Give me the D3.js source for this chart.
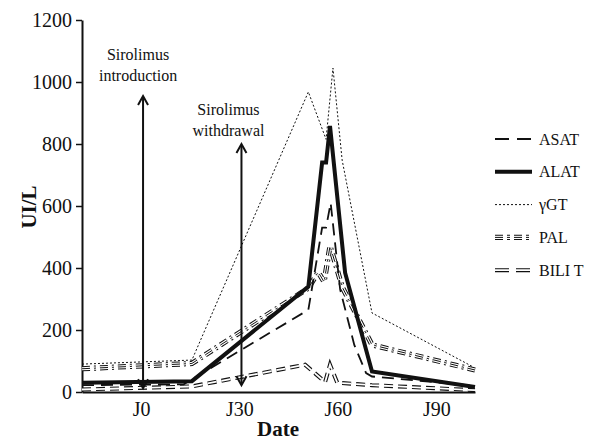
<!DOCTYPE html>
<html>
<head>
<meta charset="utf-8">
<script src="https://cdn.jsdelivr.net/npm/d3@7"></script>
<style>
  body { margin: 0; background: #fff; }
  svg { display: block; }
</style>
</head>
<body>
<svg id="chart" width="596" height="442"></svg>
<script>
// ---- data ----
const xTickDays = [0, 30, 60, 90];
const xTickLabels = ["J0", "J30", "J60", "J90"];
const yTicks = [0, 200, 400, 600, 800, 1000, 1200];

const asatDays = [-18, 13, 51, 55.2, 56.4, 57.8, 60.7, 65, 68.6, 70.4, 101.8];
const asatVals = [22, 25, 265, 530, 530, 610, 330, 152, 61, 50, 20];

const alatDays = [-18, 15.5, 51, 55.2, 56.4, 57.6, 62.2, 70.4, 101.8];
const alatVals = [30, 35, 340, 740, 740, 858, 385, 66, 16];

const ggtDays = [-18, 15.5, 51, 56.4, 58.5, 61.3, 70.4, 101.4];
const ggtVals = [90, 103, 968, 815, 1045, 748, 255, 80];

const palDays = [-18, 15.5, 51, 54, 55.8, 57.6, 59.1, 61.3, 70.4, 101.8];
const palVals = [75, 92, 335, 387, 355, 471, 419, 339, 152, 71];

const biliDays = [-18, 15.5, 50, 56.1, 57.6, 59.8, 70.4, 101.8];
const biliVals = [8, 18, 88, 32, 88, 30, 22, 6];

const seriesNames = ["ASAT", "ALAT", "\u03B3GT", "PAL", "BILI T"];

// annotations
const arrowDays = [0, 30];
const arrowTops = [955, 800];
const arrowBottoms = [12, 22];
const arrowLabels = [["Sirolimus", "introduction"], ["Sirolimus", "withdrawal"]];

// ---- layout ----
const FONT = "'Liberation Serif', 'Times New Roman', Times, 'DejaVu Serif', serif";
const svg = d3.select("#chart");
const x = d3.scaleLinear().domain([-18, 101.8]).range([82, 475]);
const y = d3.scaleLinear().domain([0, 1200]).range([392, 20]);
const ink = "#111";

function txt(sel, size, weight) {
  return sel.attr("font-family", FONT).style("font-family", FONT)
    .style("font-size", size + "px").style("font-weight", weight || "normal").attr("fill", ink);
}

// axes
const yAxis = d3.axisLeft(y).tickValues(yTicks).tickFormat(d3.format("d"))
  .tickSize(6).tickSizeOuter(0).tickPadding(4);
const gy = svg.append("g").attr("transform", `translate(${x.range()[0]},0)`).call(yAxis);
gy.attr("font-family", null).attr("font-size", null);
gy.select(".domain").attr("stroke", ink).attr("stroke-width", 2);
gy.selectAll(".tick line").attr("stroke", ink).attr("stroke-width", 1.5);
txt(gy.selectAll(".tick text"), 20);

const xAxis = d3.axisBottom(x).tickValues(xTickDays).tickFormat((d, i) => xTickLabels[i])
  .tickSize(0).tickSizeOuter(0).tickPadding(10);
const gx = svg.append("g").attr("transform", `translate(0,${y(0)})`).call(xAxis);
gx.attr("font-family", null).attr("font-size", null);
gx.select(".domain").attr("stroke", ink).attr("stroke-width", 2);
txt(gx.selectAll(".tick text"), 20);

txt(svg.append("text").attr("x", 278).attr("y", 436).attr("text-anchor", "middle"), 21, "bold").text("Date");
txt(svg.append("text").attr("transform", "translate(36,207) rotate(-90)").attr("text-anchor", "middle"), 21, "bold").text("UI/L");

// line styles
const styles = {
  "ASAT": [{ stroke: ink, width: 1.8, dash: "12,7" }],
  "ALAT": [{ stroke: ink, width: 4, dash: null }],
  "\u03B3GT": [{ stroke: ink, width: 1, dash: "2,2" }],
  "PAL": [{ stroke: ink, width: 5.2, dash: "8,4,2,4" }, { stroke: "#fff", width: 3.2, dash: "8,4,2,4" }, { stroke: ink, width: 1, dash: "8,4,2,4" }],
  "BILI T": [{ stroke: ink, width: 4, dash: "9,5" }, { stroke: "#fff", width: 1.8, dash: "9,5" }]
};
const legendDash = { "ASAT": "14,8", "ALAT": null, "\u03B3GT": "2,2", "PAL": "8,4,3,4", "BILI T": "14,7" };

const seriesData = {
  "ASAT": asatDays.map((d, i) => [d, asatVals[i]]),
  "ALAT": alatDays.map((d, i) => [d, alatVals[i]]),
  "\u03B3GT": ggtDays.map((d, i) => [d, ggtVals[i]]),
  "PAL": palDays.map((d, i) => [d, palVals[i]]),
  "BILI T": biliDays.map((d, i) => [d, biliVals[i]])
};

const line = d3.line().x(d => x(d[0])).y(d => y(d[1]));
const drawOrder = ["\u03B3GT", "PAL", "BILI T", "ASAT", "ALAT"];
drawOrder.forEach(name => {
  const g = svg.append("g");
  styles[name].forEach(s => {
    g.append("path").datum(seriesData[name]).attr("d", line)
      .attr("fill", "none").attr("stroke", s.stroke).attr("stroke-width", s.width)
      .attr("stroke-dasharray", s.dash).attr("stroke-linejoin", "miter").attr("stroke-miterlimit", 6);
  });
});

// arrows
arrowDays.forEach((d, i) => {
  const ax = x(d) + 2, y1 = y(arrowTops[i]), y2 = y(arrowBottoms[i]);
  const g = svg.append("g").attr("stroke", ink).attr("stroke-width", 2).attr("fill", "none");
  g.append("line").attr("x1", ax).attr("x2", ax).attr("y1", y1 + 1).attr("y2", y2 - 1);
  g.append("path").attr("d", `M${ax - 5},${y1 + 9} L${ax},${y1} L${ax + 5},${y1 + 9}`);
  g.append("path").attr("d", `M${ax - 5},${y2 - 9} L${ax},${y2} L${ax + 5},${y2 - 9}`);
  const tx = i === 0 ? ax - 5 : ax - 13;
  const ty = i === 0 ? 60 : 115;
  arrowLabels[i].forEach((t, j) => {
    txt(svg.append("text").attr("x", tx).attr("y", ty + j * 21).attr("text-anchor", "middle"), 16).text(t);
  });
});

// legend
const legY0 = 139, legStep = 32.8;
seriesNames.forEach((name, i) => {
  const ly = legY0 + i * legStep;
  const g = svg.append("g");
  styles[name].forEach(s => {
    g.append("line").attr("x1", 495).attr("x2", 532).attr("y1", ly).attr("y2", ly)
      .attr("stroke", s.stroke).attr("stroke-width", s.width)
      .attr("stroke-dasharray", legendDash[name]);
  });
  txt(svg.append("text").attr("x", 539).attr("y", ly + 5.5), 16).text(name);
});
</script>
</body>
</html>
